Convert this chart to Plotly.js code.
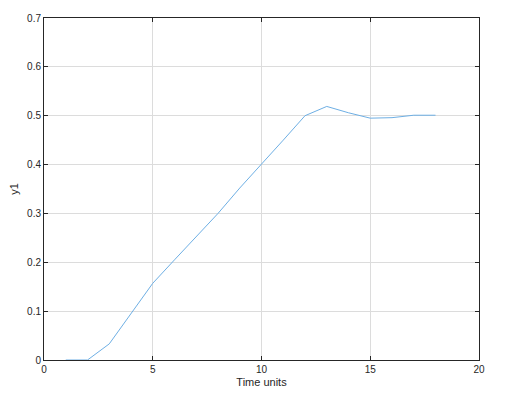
<!DOCTYPE html>
<html>
<head>
<meta charset="utf-8">
<script src="https://cdn.plot.ly/plotly-3.0.1.min.js"></script>
<style>html,body{margin:0;padding:0;background:#fff;}#chart{width:518px;height:402px;}</style>
</head>
<body>
<div id="chart"></div>
<script>
const timeUnits = [1,2,3,4,5,6,7,8,9,10,11,12,13,14,15,16,17,18];
const y1Values = [0,0,0.033,0.095,0.157,0.205,0.252,0.3,0.352,0.4,0.45,0.5,0.519,0.506,0.495,0.496,0.501,0.501];
const xTicks = [0,5,10,15,20];
const yTicks = [0,0.1,0.2,0.3,0.4,0.5,0.6,0.7];

const axisCommon = {
  showgrid: true, gridcolor: '#dcdcdc', gridwidth: 1,
  showline: true, linecolor: '#262626', linewidth: 1, mirror: 'ticks',
  ticks: 'inside', ticklen: 4, tickcolor: '#262626',
  zeroline: false,
  tickfont: {family: 'Liberation Sans, Arial, sans-serif', size: 10, color: '#262626'}
};

Plotly.newPlot('chart', [{
  x: timeUnits, y: y1Values, type: 'scatter', mode: 'lines',
  line: {color: 'rgb(110,175,228)', width: 1}
}], {
  width: 518, height: 402,
  margin: {l: 44, r: 39, t: 18, b: 42},
  paper_bgcolor: '#fff', plot_bgcolor: '#fff',
  showlegend: false,
  xaxis: Object.assign({}, axisCommon, {
    range: [0, 20], tickvals: xTicks, ticktext: xTicks.map(String),
    title: {text: 'Time units', font: {family: 'Liberation Sans, Arial, sans-serif', size: 11, color: '#262626'}, standoff: 4}
  }),
  yaxis: Object.assign({}, axisCommon, {
    range: [0, 0.7], tickvals: yTicks, ticktext: yTicks.map(v => v === 0 ? '0' : v.toFixed(1)),
    title: {text: 'y1', font: {family: 'Liberation Sans, Arial, sans-serif', size: 11, color: '#262626'}, standoff: 6}
  })
}, {displayModeBar: false, staticPlot: true});
</script>
</body>
</html>
